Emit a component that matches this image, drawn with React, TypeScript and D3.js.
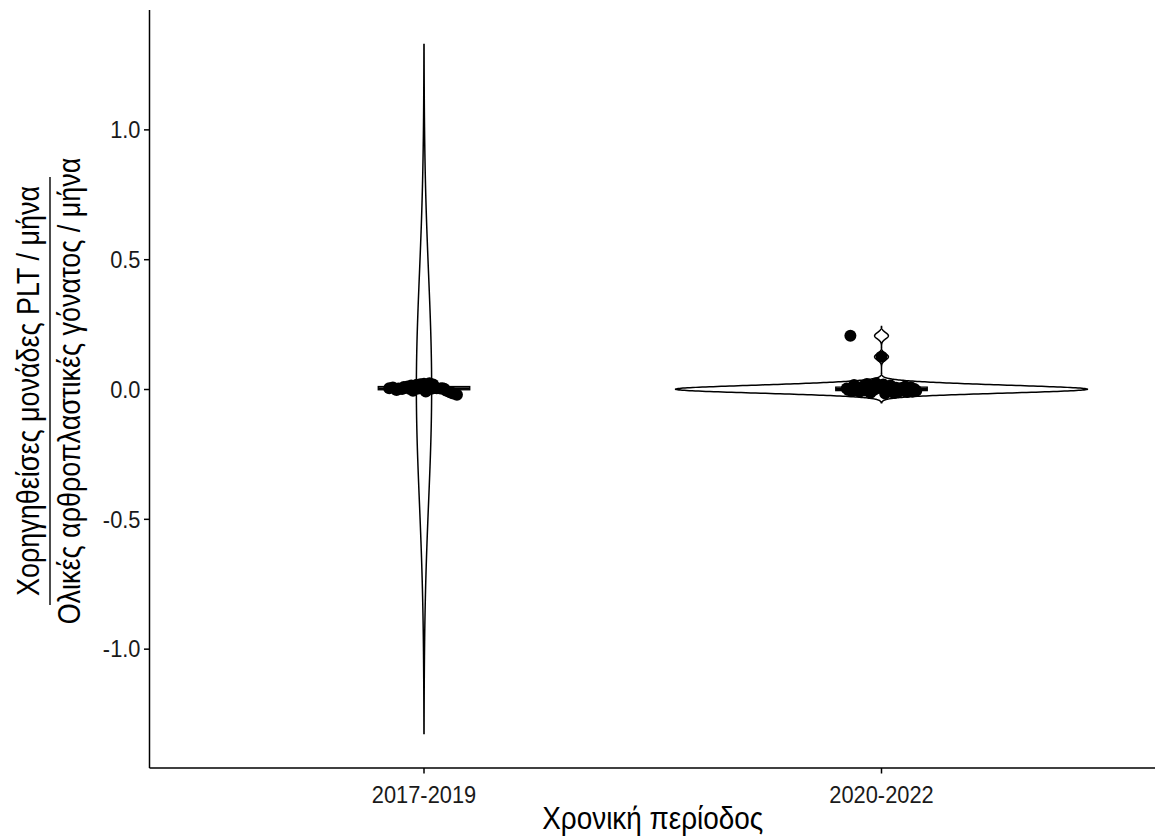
import React from "react";
import * as d3 from "d3";

const categories = ["2017-2019", "2020-2022"];

const values2017 = [
  0.005, 0.008, 0.004, 0.010, 0.012, 0.015, 0.018, 0.020, 0.022, 0.016,
  0.003, 0.006, 0.002, -0.002, -0.005, -0.008, 0.004, 0.003, 0.005, 0.019,
  0.024, 0.004, 0.003, -0.004, -0.010, -0.015, -0.020, -0.012, 0.004, 0.005,
];
const jitter2017 = [
  -0.95, -0.85, -0.7, -0.55, -0.45, -0.35, -0.2, -0.1, 0.0, 0.1,
  0.2, 0.3, -0.6, -0.75, -0.3, 0.05, 0.45, 0.55, 0.35, 0.25,
  0.15, -0.05, -0.4, 0.6, 0.7, 0.8, 0.9, 0.75, -0.15, 0.5,
];

const values2020 = [
  -0.015, -0.013, -0.012, -0.010, -0.009, -0.008, -0.007, -0.006, -0.005, -0.005,
  -0.004, -0.003, -0.002, -0.002, -0.001, 0.000, 0.000, 0.001, 0.001, 0.002,
  0.003, 0.003, 0.004, 0.005, 0.006, 0.007, 0.008, 0.009, 0.010, 0.012,
  0.013, 0.015, 0.017, 0.019, 0.021, 0.024, 0.004, 0.002, 0.126, 0.207,
];
const jitter2020 = [
  0.1, 0.35, -0.3, 0.7, -0.6, 0.85, 0.5, -0.8, 0.95, 0.2,
  -0.45, 0.6, -0.9, 0.3, -0.2, 0.75, -0.7, 0.45, -0.35, 0.9,
  -0.55, 0.15, -0.95, 0.55, -0.1, 0.4, -0.65, 0.8, -0.25, 0.65,
  -0.5, 0.25, -0.75, 0.05, -0.4, -0.15, 0.5, -0.85, 0.0, -0.85,
];

const bandwidths = [0.435, 0.012];

const yTicks = [-1.0, -0.5, 0.0, 0.5, 1.0];
const yTickLabels = ["-1.0", "-0.5", "0.0", "0.5", "1.0"];

const xTitle = "Χρονική περίοδος";
const yTitleTop = "Χορηγηθείσες μονάδες PLT / μήνα";
const yTitleBottom = "Ολικές αρθροπλαστικές γόνατος / μήνα";

const W = 1155;
const H = 836;
const left = 149.5;
const right = 1156;
const top = 10;
const bottom = 768;
const FONT = "'Liberation Sans', Arial, sans-serif";

function kde(values: number[], bw: number) {
  const lo = (d3.min(values) as number) - 3 * bw;
  const hi = (d3.max(values) as number) + 3 * bw;
  const n = 512;
  const pts: { v: number; d: number }[] = [];
  const c = 1 / (values.length * bw * Math.sqrt(2 * Math.PI));
  for (let i = 0; i < n; i++) {
    const v = lo + ((hi - lo) * i) / (n - 1);
    let s = 0;
    for (const x of values) {
      const z = (v - x) / bw;
      s += Math.exp(-0.5 * z * z);
    }
    pts.push({ v, d: s * c });
  }
  return pts;
}

export default function App() {
  const groups = [
    { cat: categories[0], values: values2017, jitter: jitter2017, bw: bandwidths[0] },
    { cat: categories[1], values: values2020, jitter: jitter2020, bw: bandwidths[1] },
  ];
  const dens = groups.map((g) => kde(g.values, g.bw));
  const allV = dens.flatMap((d) => d.map((p) => p.v));
  const vmin = d3.min(allV) as number;
  const vmax = d3.max(allV) as number;
  const pad = (vmax - vmin) * 0.05;
  const y = d3.scaleLinear().domain([vmin - pad, vmax + pad]).range([bottom, top]);
  const x = d3.scalePoint<string>().domain(categories).range([left, right]).padding(0.6);
  const step = x.step();
  const maxD = d3.max(dens.flatMap((d) => d.map((p) => p.d))) as number;
  const halfW = 0.45 * step;
  const cy = (top + bottom) / 2;

  return (
    <svg width={W} height={H} style={{ position: "absolute", left: 0, top: 0, background: "#fff" }}>
      <rect x={0} y={0} width={W} height={H} fill="#fff" />
      {groups.map((g, gi) => {
        const cx = x(g.cat) as number;
        const area = d3
          .area<{ v: number; d: number }>()
          .x0((p) => cx - (p.d / maxD) * halfW)
          .x1((p) => cx + (p.d / maxD) * halfW)
          .y((p) => y(p.v));
        const sorted = [...g.values].sort((a, b) => a - b);
        const q1 = d3.quantile(sorted, 0.25) as number;
        const q2 = d3.quantile(sorted, 0.5) as number;
        const q3 = d3.quantile(sorted, 0.75) as number;
        const bw = 0.1 * step;
        return (
          <g key={g.cat}>
            <path d={area(dens[gi]) || ""} fill="#fff" stroke="#000" strokeWidth={1.5} />
            <rect x={cx - bw} y={y(q3)} width={2 * bw} height={Math.max(0.5, y(q1) - y(q3))} fill="#fff" stroke="#000" strokeWidth={1.3} />
            <line x1={cx - bw} x2={cx + bw} y1={y(q2)} y2={y(q2)} stroke="#000" strokeWidth={2.4} />
            {g.values.map((v, i) => (
              <circle key={i} cx={cx + g.jitter[i] * 0.08 * step} cy={y(v)} r={6} fill="#000" />
            ))}
          </g>
        );
      })}
      {/* axes */}
      <line x1={left} x2={left} y1={top} y2={bottom} stroke="#000" strokeWidth={1.5} />
      <line x1={left} x2={right} y1={bottom} y2={bottom} stroke="#000" strokeWidth={1.5} />
      {yTicks.map((t, i) => (
        <g key={t}>
          <line x1={left - 5.5} x2={left} y1={y(t)} y2={y(t)} stroke="#000" strokeWidth={1.5} />
          <text
            transform={`translate(${left - 9}, ${y(t)}) scale(0.95, 1)`}
            dy="0.36em"
            textAnchor="end"
            fontFamily={FONT}
            fontSize={23}
            fill="#1a1a1a"
          >
            {yTickLabels[i]}
          </text>
        </g>
      ))}
      {categories.map((c) => (
        <g key={c}>
          <line x1={x(c)} x2={x(c)} y1={bottom} y2={bottom + 5.5} stroke="#000" strokeWidth={1.5} />
          <text
            transform={`translate(${x(c)}, ${bottom + 35}) scale(0.95, 1)`}
            textAnchor="middle"
            fontFamily={FONT}
            fontSize={23}
            fill="#1a1a1a"
          >
            {c}
          </text>
        </g>
      ))}
      <text
        transform={`translate(${(left + right) / 2}, 829) scale(0.9, 1)`}
        textAnchor="middle"
        fontFamily={FONT}
        fontSize={31}
        fill="#000"
      >
        {xTitle}
      </text>
      <g transform={`translate(0, ${cy + 2}) rotate(-90)`}>
        <text transform="translate(0, 39) scale(0.87, 1)" textAnchor="middle" fontFamily={FONT} fontSize={31} fill="#000">
          {yTitleTop}
        </text>
        <line x1={-214} x2={214} y1={50} y2={50} stroke="#000" strokeWidth={1.4} />
        <text transform="translate(0, 80) scale(0.87, 1)" textAnchor="middle" fontFamily={FONT} fontSize={31} fill="#000">
          {yTitleBottom}
        </text>
      </g>
    </svg>
  );
}
